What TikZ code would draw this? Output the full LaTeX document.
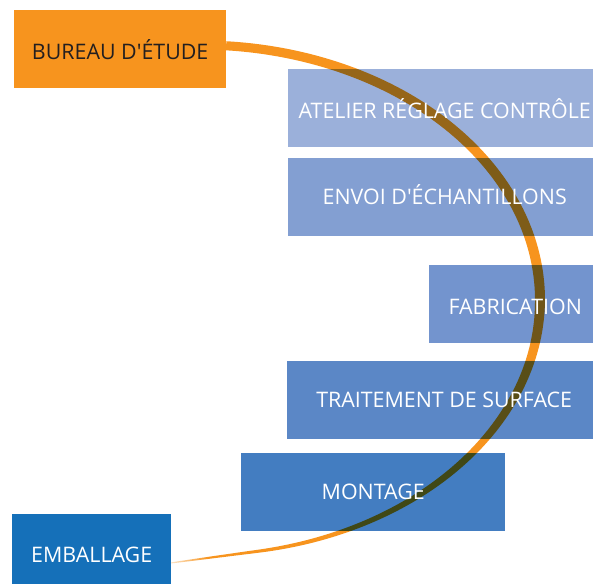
\documentclass[tikz,border=0pt]{standalone}
\usepackage{fontspec}
\newfontfamily\etapefont{Open Sans}
\usetikzlibrary{positioning,fadings}
\definecolor{cBureau}{HTML}{F7941E}
\definecolor{cBureauTexte}{HTML}{231F20}
\definecolor{cAtelier}{HTML}{9BB0DA}
\definecolor{cEnvoi}{HTML}{839FD2}
\definecolor{cFabrication}{HTML}{7394CE}
\definecolor{cTraitement}{HTML}{5B87C6}
\definecolor{cMontage}{HTML}{437DC1}
\definecolor{cEmballage}{HTML}{1570B9}
\definecolor{cArc}{HTML}{F7941E}
\tikzfading[name=fondu, left color=transparent!0, right color=transparent!100]
\tikzset{
  etape/.style={rectangle, inner sep=0pt, anchor=north west, minimum height=78pt},
  etiquette/.style={font=\etapefont\fontsize{21.4}{25}\selectfont, text=white,
    text height=15.3pt, text depth=0pt, inner sep=0pt}
}

\begin{document}
\begin{tikzpicture}[x=1pt, y=-1pt,
    declare function={demi(\t)=(\t>=0) ? (4.5+0.5*cos(\t)) : (0.5+4.5*(max(1+\t/95,0.001))^0.8);
      bas(\t)=0.04*(max(0,-80-\t))^2;}]
	\useasboundingbox (0,0) rectangle (593,583);
	% etapes
	\node [etape, fill=cAtelier, minimum width=313pt] (atelier) at (288,69) {};
	\node [etape, fill=cEnvoi, minimum width=313pt] (envoi) at (288,158) {};
	\node [etape, fill=cFabrication, minimum width=172pt] (fabrication) at (429,265) {};
	\node [etape, fill=cTraitement, minimum width=314pt] (traitement) at (287,361) {};
	\node [etape, fill=cMontage, minimum width=264pt] (montage) at (241,453) {};
	% arc
	\begin{scope}[blend mode=multiply]
		\fill [cArc] plot [domain=85.6:-94.9, samples=120, smooth]
			({200+(340+demi(\x))*cos(\x)}, {300-(255+demi(\x))*sin(\x)+bas(\x)})
			-- plot [domain=-94.9:85.6, samples=120, smooth]
			({200+(340-demi(\x))*cos(\x)}, {300-(255-demi(\x))*sin(\x)+bas(\x)}) -- cycle;
	\end{scope}
	\fill [white, fill opacity=0.75, path fading=fondu] (171,545) rectangle (208,572);
	\node [etape, fill=cBureau, minimum width=212pt] (bureau) at (14,10) {};
	\node [etape, fill=cEmballage, minimum width=159pt] (emballage) at (12,514) {};
	% textes
	\node [etiquette, text=cBureauTexte] at ([yshift=-3pt]bureau.center) {BUREAU D'ÉTUDE};
	\node [etiquette] at ([yshift=-3pt]atelier.center) {ATELIER RÉGLAGE CONTRÔLE};
	\node [etiquette] at (envoi) {ENVOI D'ÉCHANTILLONS};
	\node [etiquette] at ([yshift=-3pt]fabrication.center) {FABRICATION};
	\node [etiquette] at (traitement) {TRAITEMENT DE SURFACE};
	\node [etiquette] at (montage) {MONTAGE};
	\node [etiquette] at ([yshift=-2pt]emballage.center) {EMBALLAGE};
\end{tikzpicture}
\end{document}
